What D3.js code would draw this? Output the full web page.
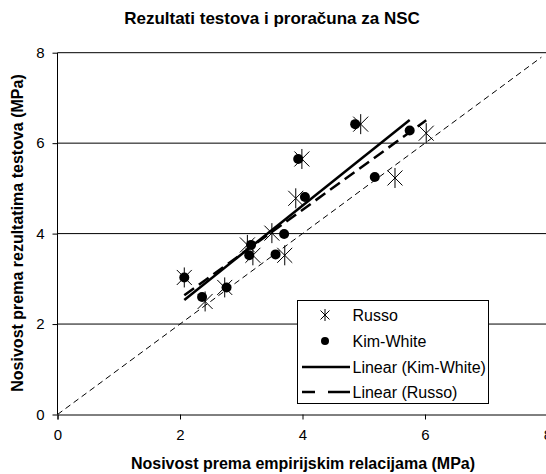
<!DOCTYPE html>
<html>
<head>
<meta charset="utf-8">
<script src="https://cdn.jsdelivr.net/npm/d3@7"></script>
<style>
  body { margin: 0; background: #fff; }
  text { font-family: "Liberation Sans", Arial, sans-serif; fill: #000; }
</style>
</head>
<body>
<script>
// data
var kimX = [3.93, 4.04, 3.70, 3.16, 3.13, 3.56, 5.18, 2.07, 2.36, 2.76, 4.86, 5.75];
var kimY = [5.65, 4.81, 3.99, 3.75, 3.52, 3.54, 5.25, 3.03, 2.60, 2.81, 6.42, 6.28];
var russoX = [3.99, 3.89, 3.50, 3.10, 3.19, 3.71, 5.51, 2.07, 2.41, 2.73, 4.95, 6.02];
var russoY = [5.65, 4.78, 4.01, 3.75, 3.52, 3.52, 5.23, 3.03, 2.50, 2.81, 6.42, 6.22];
var xTicks = [0, 2, 4, 6, 8];
var yTicks = [0, 2, 4, 6, 8];
var legendLabels = ['Russo', 'Kim-White', 'Linear (Kim-White)', 'Linear (Russo)'];

var width = 546, height = 474;

var svg = d3.select('body').append('svg')
    .attr('width', width)
    .attr('height', height);

var x = d3.scaleLinear().domain([0, 8]).range([57.5, 547.5]);
var y = d3.scaleLinear().domain([0, 8]).range([414.5, 52.7]);

// title
svg.append('text')
    .attr('x', 272).attr('y', 24)
    .attr('text-anchor', 'middle')
    .style('font-size', '17px').style('font-weight', 'bold')
    .text('Rezultati testova i proračuna za NSC');

// gridlines
svg.append('g').selectAll('line').data(yTicks.slice(1)).enter().append('line')
    .attr('x1', x(0)).attr('x2', x(8))
    .attr('y1', function (d) { return y(d); })
    .attr('y2', function (d) { return y(d); })
    .attr('stroke', '#000').attr('stroke-width', 1);

// axes
var xAxis = d3.axisBottom(x).tickValues(xTicks).tickSize(5).tickPadding(10);
var yAxis = d3.axisLeft(y).tickValues(yTicks).tickSize(5).tickPadding(8);

var gx = svg.append('g').attr('transform', 'translate(0,' + y(0) + ')').call(xAxis);
var gy = svg.append('g').attr('transform', 'translate(' + x(0) + ',0)').call(yAxis);
[gx, gy].forEach(function (g) {
    g.select('.domain').attr('stroke', '#000');
    g.selectAll('.tick line').attr('stroke', '#000');
    g.selectAll('.tick text')
        .style('font-family', '"Liberation Sans", Arial, sans-serif')
        .style('font-size', '15px').attr('fill', '#000');
});
gy.select('.domain').attr('d', 'M0,' + y(8) + 'V' + y(0));

// axis titles
svg.append('text')
    .attr('x', 303).attr('y', 469)
    .attr('text-anchor', 'middle')
    .style('font-size', '16px').style('font-weight', 'bold')
    .text('Nosivost prema empirijskim relacijama (MPa)');

svg.append('text')
    .attr('transform', 'translate(23,233) rotate(-90)')
    .attr('text-anchor', 'middle')
    .style('font-size', '16px').style('font-weight', 'bold')
    .text('Nosivost prema rezultatima testova (MPa)');

// y = x reference line
svg.append('line')
    .attr('x1', x(0)).attr('y1', y(0))
    .attr('x2', x(7.9)).attr('y2', y(7.9))
    .attr('stroke', '#000').attr('stroke-width', 1)
    .attr('stroke-dasharray', '6,4');

// linear trend lines
function fit(xs, ys) {
    var mx = d3.mean(xs), my = d3.mean(ys);
    var sxy = d3.sum(xs, function (v, i) { return (v - mx) * (ys[i] - my); });
    var sxx = d3.sum(xs, function (v) { return (v - mx) * (v - mx); });
    var b = sxy / sxx;
    var a = my - b * mx;
    var x0 = d3.min(xs), x1 = d3.max(xs);
    return [[x0, a + b * x0], [x1, a + b * x1]];
}

var line = d3.line()
    .x(function (d) { return x(d[0]); })
    .y(function (d) { return y(d[1]); });

svg.append('path')
    .attr('d', line(fit(kimX, kimY)))
    .attr('fill', 'none').attr('stroke', '#000').attr('stroke-width', 2.5);

svg.append('path')
    .attr('d', line(fit(russoX, russoY)))
    .attr('fill', 'none').attr('stroke', '#000').attr('stroke-width', 2.5)
    .attr('stroke-dasharray', '12,6');

// markers
function starPath(cx, cy, r) {
    var d = r * 0.75;
    return 'M' + cx + ',' + (cy - r) + 'V' + (cy + r) +
        'M' + (cx - d) + ',' + (cy - d) + 'L' + (cx + d) + ',' + (cy + d) +
        'M' + (cx - d) + ',' + (cy + d) + 'L' + (cx + d) + ',' + (cy - d);
}

svg.append('g').selectAll('circle').data(kimX).enter().append('circle')
    .attr('cx', function (d) { return x(d); })
    .attr('cy', function (d, i) { return y(kimY[i]); })
    .attr('r', 5)
    .attr('fill', '#000');

svg.append('g').selectAll('path').data(russoX).enter().append('path')
    .attr('d', function (d, i) { return starPath(x(d), y(russoY[i]), 10); })
    .attr('stroke', '#000').attr('stroke-width', 1).attr('fill', 'none');

// legend
var lg = svg.append('g');
lg.append('rect')
    .attr('x', 297.5).attr('y', 300.5)
    .attr('width', 191).attr('height', 103)
    .attr('fill', '#fff').attr('stroke', '#000').attr('stroke-width', 1);

var rowY = [315, 341, 367, 392];
lg.selectAll('text').data(legendLabels).enter().append('text')
    .attr('x', 352.5)
    .attr('y', function (d, i) { return rowY[i] + 6; })
    .style('font-size', '16px')
    .text(function (d) { return d; });

lg.append('path')
    .attr('d', starPath(325, rowY[0], 6))
    .attr('stroke', '#000').attr('fill', 'none');
lg.append('circle').attr('cx', 325).attr('cy', rowY[1]).attr('r', 4).attr('fill', '#000');
lg.append('line')
    .attr('x1', 302).attr('x2', 350).attr('y1', rowY[2]).attr('y2', rowY[2])
    .attr('stroke', '#000').attr('stroke-width', 2.5);
lg.append('line')
    .attr('x1', 302).attr('x2', 350).attr('y1', rowY[3]).attr('y2', rowY[3])
    .attr('stroke', '#000').attr('stroke-width', 2.5)
    .attr('stroke-dasharray', '13,13,22');
</script>
</body>
</html>
